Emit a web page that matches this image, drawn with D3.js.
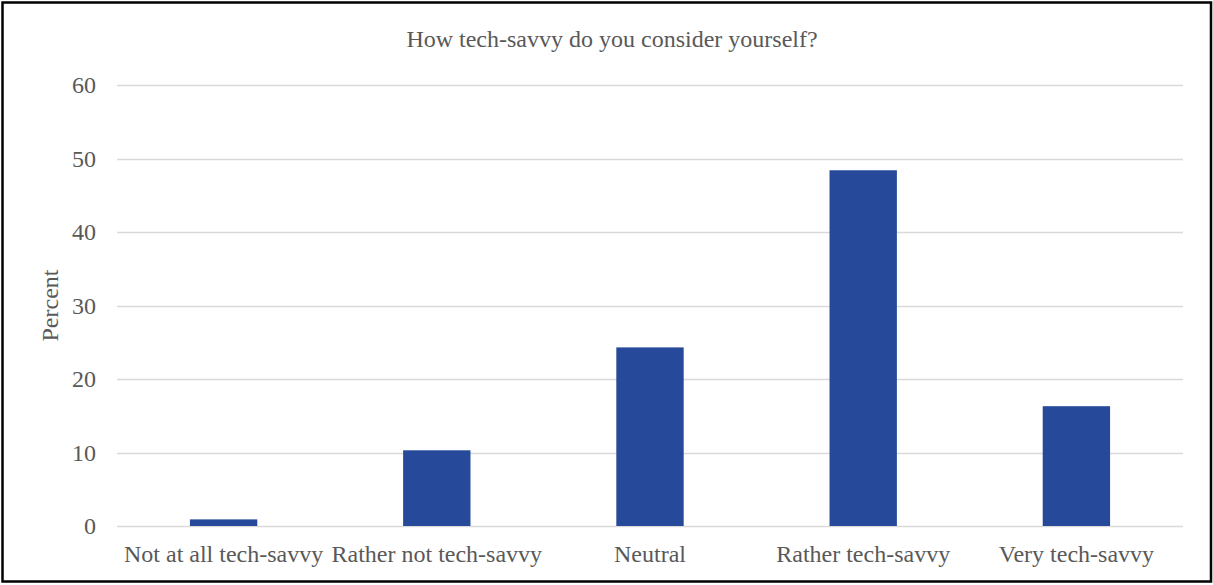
<!DOCTYPE html>
<html>
<head>
<meta charset="utf-8">
<script src="https://cdn.jsdelivr.net/npm/d3@7"></script>
<style>
  html, body { margin: 0; padding: 0; background: #fff; }
  svg { display: block; }
  text { font-family: "Liberation Serif", "Times New Roman", serif; fill: #595959; }
</style>
</head>
<body>
<svg id="chart" width="1213" height="585"></svg>
<script>
// Survey answers and their share of respondents (percent)
const categories = ["Not at all tech-savvy", "Rather not tech-savvy", "Neutral", "Rather tech-savvy", "Very tech-savvy"];
const percentValues = [0.9, 10.3, 24.3, 48.4, 16.3];
const yTicks = [0, 10, 20, 30, 40, 50, 60];
const chartTitle = "How tech-savvy do you consider yourself?";
const yLabel = "Percent";

const svg = d3.select("#chart");
const W = 1213, H = 585;
const plot = { left: 117, right: 1183, top: 85, bottom: 526 };
const fontSize = 24;

// outer frame
svg.append("rect")
  .attr("x", 2.5).attr("y", 2.5)
  .attr("width", W - 4.5).attr("height", H - 6)
  .attr("fill", "#fff").attr("stroke", "#000").attr("stroke-width", 2.5);

const x = d3.scaleBand()
  .domain(categories)
  .range([plot.left, plot.right])
  .paddingInner(0.684)
  .paddingOuter(0.342);

const y = d3.scaleLinear()
  .domain([0, 60])
  .range([plot.bottom, plot.top]);

// horizontal gridlines
svg.append("g")
  .selectAll("line")
  .data(yTicks)
  .join("line")
  .attr("x1", plot.left).attr("x2", plot.right)
  .attr("y1", d => Math.round(y(d)) + 0.5)
  .attr("y2", d => Math.round(y(d)) + 0.5)
  .attr("stroke", "#d9d9d9").attr("stroke-width", 1.5);

// y tick labels
const yAxis = d3.axisLeft(y).tickValues(yTicks).tickSize(0).tickPadding(0);
const gy = svg.append("g")
  .attr("transform", `translate(${plot.left - 21},0)`)
  .call(yAxis);
gy.select(".domain").remove();
gy.selectAll("text")
  .attr("font-size", fontSize)
  .attr("font-family", "Liberation Serif, serif")
  .attr("fill", "#595959")
  .attr("dy", "0.33em");

// bars
svg.append("g")
  .selectAll("rect")
  .data(categories.map((c, i) => ({ c, v: percentValues[i] })))
  .join("rect")
  .attr("x", d => x(d.c))
  .attr("width", x.bandwidth())
  .attr("y", d => y(d.v))
  .attr("height", d => y(0) - y(d.v))
  .attr("fill", "#264a99");

// category labels
const xAxis = d3.axisBottom(x).tickSize(0).tickPadding(0);
const gx = svg.append("g")
  .attr("transform", `translate(0,${plot.bottom})`)
  .call(xAxis);
gx.select(".domain").remove();
gx.selectAll("text")
  .attr("font-size", fontSize)
  .attr("font-family", "Liberation Serif, serif")
  .attr("fill", "#595959")
  .attr("dy", 0)
  .attr("y", 36);

// title
svg.append("text")
  .attr("x", 612).attr("y", 47)
  .attr("text-anchor", "middle")
  .attr("font-size", fontSize)
  .text(chartTitle);

// y axis title
svg.append("text")
  .attr("transform", `translate(58,${(plot.top + plot.bottom) / 2}) rotate(-90)`)
  .attr("text-anchor", "middle")
  .attr("font-size", fontSize)
  .text(yLabel);
</script>
</body>
</html>
